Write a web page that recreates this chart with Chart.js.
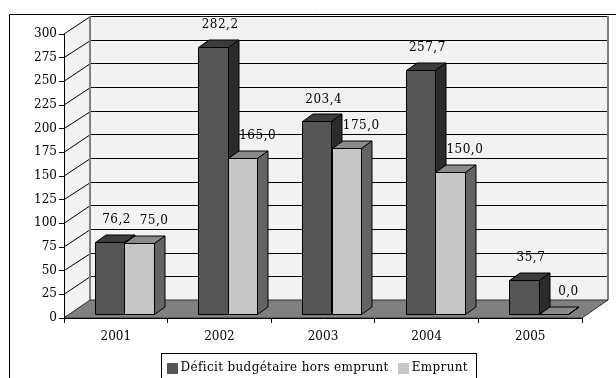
<!DOCTYPE html>
<html>
<head>
<meta charset="utf-8">
<script src="https://cdn.jsdelivr.net/npm/chart.js@4.4.1/dist/chart.umd.min.js"></script>
<style>
  html, body { margin: 0; padding: 0; background: #fff; }
  canvas { display: block; }
</style>
</head>
<body>
<canvas id="chart" width="616" height="378"></canvas>
<script>
const years = ['2001', '2002', '2003', '2004', '2005'];
const deficitHorsEmprunt = [76.2, 282.2, 203.4, 257.7, 35.7];
const emprunt = [75.0, 165.0, 175.0, 150.0, 0.0];
const seriesNames = ['Déficit budgétaire hors emprunt', 'Emprunt'];
const yMin = 0;
const yMax = 300;
const yStep = 25;

const FONT = 'DejaVu Serif';

// front / top / side shades of each series
const SHADES = [
    { front: '#555555', top: '#3c3c3c', side: '#2b2b2b' },
    { front: '#c6c6c6', top: '#8a8a8a', side: '#646464' }
];

// depth of the walls, position and depth of the bars
const WALL_DX = 26, WALL_DY = -18;
const BAR_OFF_X = 8.5, BAR_OFF_Y = -4;
const BAR_DX = 10.5, BAR_DY = -7.5;
// where the value labels sit relative to the bar's front top
const LABEL_OFF = [{ x: 7, y: -22 }, { x: 15, y: -22 }];

function poly(ctx, pts, fill, stroke) {
    ctx.beginPath();
    ctx.moveTo(pts[0][0], pts[0][1]);
    for (let i = 1; i < pts.length; i++) {
        ctx.lineTo(pts[i][0], pts[i][1]);
    }
    ctx.closePath();
    if (fill) {
        ctx.fillStyle = fill;
        ctx.fill();
    }
    if (stroke) {
        ctx.strokeStyle = stroke;
        ctx.stroke();
    }
}

function fmt(v) {
    return v.toFixed(1).replace('.', ',');
}

const scene3d = {
    id: 'scene3d',

    beforeDraw(chart) {
        const { ctx, chartArea: a, scales: { y } } = chart;
        ctx.save();
        ctx.fillStyle = '#fff';
        ctx.fillRect(0, 0, chart.width, chart.height);
        ctx.lineWidth = 1;

        // outer frame
        ctx.strokeStyle = '#000';
        ctx.beginPath();
        ctx.moveTo(9.5, chart.height);
        ctx.lineTo(9.5, 14.5);
        ctx.lineTo(chart.width, 14.5);
        ctx.stroke();

        const l = a.left, r = a.right, t = a.top, b = a.bottom;
        const bl = l + WALL_DX, br = r + WALL_DX, bt = t + WALL_DY, bb = b + WALL_DY;

        // back wall and side wall
        ctx.fillStyle = '#f2f2f2';
        ctx.fillRect(bl, bt, br - bl, bb - bt);
        poly(ctx, [[l, t], [bl, bt], [bl, bb], [l, b]], '#f2f2f2');

        // grid lines on both walls
        ctx.strokeStyle = '#000';
        for (let v = yMin; v <= yMax; v += yStep) {
            const yf = y.getPixelForValue(v);
            const yb = Math.round(yf + WALL_DY) + 0.5;
            ctx.beginPath();
            ctx.moveTo(bl, yb);
            ctx.lineTo(br, yb);
            ctx.moveTo(l, yf);
            ctx.lineTo(bl + 0.5, yb);
            ctx.stroke();
        }

        // wall edges
        ctx.strokeStyle = '#808080';
        ctx.lineWidth = 2;
        ctx.beginPath();
        ctx.moveTo(bl, bt);
        ctx.lineTo(bl, bb);
        ctx.moveTo(br, bt);
        ctx.lineTo(br, bb);
        ctx.stroke();
        ctx.lineWidth = 1;

        // floor
        poly(ctx, [[l, b], [r, b], [br, bb], [bl, bb]], '#808080', '#333333');
        ctx.restore();
    },

    beforeDatasetsDraw(chart) {
        const { ctx } = chart;
        const metas = chart.data.datasets.map((ds, i) => chart.getDatasetMeta(i));
        ctx.save();
        ctx.lineWidth = 1;
        ctx.lineJoin = 'miter';

        for (let i = 0; i < years.length; i++) {
            metas.forEach((meta, j) => {
                const bar = meta.data[i];
                const s = SHADES[j];
                const x0 = Math.round(bar.x - bar.width / 2 + BAR_OFF_X) + 0.5;
                const x1 = Math.round(bar.x + bar.width / 2 + BAR_OFF_X) + 0.5;
                const yt = Math.round(bar.y + BAR_OFF_Y) + 0.5;
                const yb = Math.round(bar.base + BAR_OFF_Y) + 0.5;

                if (yb - yt > 0.5) {
                    poly(ctx, [[x0, yt], [x1, yt], [x1, yb], [x0, yb]], s.front, '#000');
                }
                poly(ctx, [[x0, yt], [x1, yt], [x1 + BAR_DX, yt + BAR_DY], [x0 + BAR_DX, yt + BAR_DY]], s.top, '#000');
                poly(ctx, [[x1, yt], [x1 + BAR_DX, yt + BAR_DY], [x1 + BAR_DX, yb + BAR_DY], [x1, yb]], s.side, '#000');
            });
        }

        // value labels
        ctx.font = '12px ' + FONT;
        ctx.letterSpacing = '0.5px';
        ctx.fillStyle = '#000';
        ctx.textAlign = 'center';
        ctx.textBaseline = 'middle';
        metas.forEach((meta, j) => {
            const values = chart.data.datasets[j].data;
            meta.data.forEach((bar, i) => {
                ctx.fillText(fmt(values[i]), bar.x + BAR_OFF_X + LABEL_OFF[j].x, bar.y + BAR_OFF_Y + LABEL_OFF[j].y);
            });
        });
        ctx.restore();
        return false;
    },

    afterDraw(chart) {
        const { ctx } = chart;
        ctx.save();
        ctx.font = '12px ' + FONT;
        ctx.letterSpacing = '0.35px';
        const box = 11, gap = 3, itemGap = 9, padL = 5, padR = 8;
        const items = chart.data.datasets.map(ds => ({
            label: ds.label,
            color: ds.backgroundColor,
            w: ctx.measureText(ds.label).width
        }));
        let total = padL + padR + itemGap * (items.length - 1);
        items.forEach(it => { total += box + gap + it.w; });
        const left = Math.round(318.5 - total / 2) + 0.5;
        const top = 353.5;

        ctx.strokeStyle = '#000';
        ctx.lineWidth = 1;
        ctx.strokeRect(left, top, Math.round(total), 40);

        ctx.textAlign = 'left';
        ctx.textBaseline = 'alphabetic';
        let x = left + padL;
        items.forEach(it => {
            ctx.fillStyle = it.color;
            ctx.fillRect(Math.round(x), 363, box, box);
            x += box + gap;
            ctx.fillStyle = '#000';
            ctx.fillText(it.label, x, 371);
            x += it.w + itemGap;
        });
        ctx.restore();
    }
};

new Chart(document.getElementById('chart'), {
    type: 'bar',
    data: {
        labels: years,
        datasets: [
            { label: seriesNames[0], data: deficitHorsEmprunt, backgroundColor: SHADES[0].front },
            { label: seriesNames[1], data: emprunt, backgroundColor: SHADES[1].front }
        ]
    },
    options: {
        responsive: false,
        animation: false,
        layout: { padding: { top: 34, right: 34, bottom: 0, left: 0 } },
        datasets: { bar: { categoryPercentage: 0.57, barPercentage: 1.0 } },
        plugins: {
            legend: { display: false },
            tooltip: { enabled: false }
        },
        scales: {
            x: {
                afterFit(scale) { scale.height = 60; },
                grid: { drawOnChartArea: false, drawTicks: true, tickLength: 5, color: '#000', offset: true },
                border: { display: true, color: '#000', width: 1 },
                ticks: { color: '#000', padding: 7, font: { family: FONT, size: 12 } }
            },
            y: {
                min: yMin,
                max: yMax,
                afterFit(scale) { scale.width = 64; },
                grid: { drawOnChartArea: false, drawTicks: true, tickLength: 5, color: '#000' },
                border: { display: true, color: '#000', width: 1 },
                ticks: { stepSize: yStep, color: '#000', padding: 2, font: { family: FONT, size: 12 } }
            }
        }
    },
    plugins: [scene3d]
});
</script>
</body>
</html>
